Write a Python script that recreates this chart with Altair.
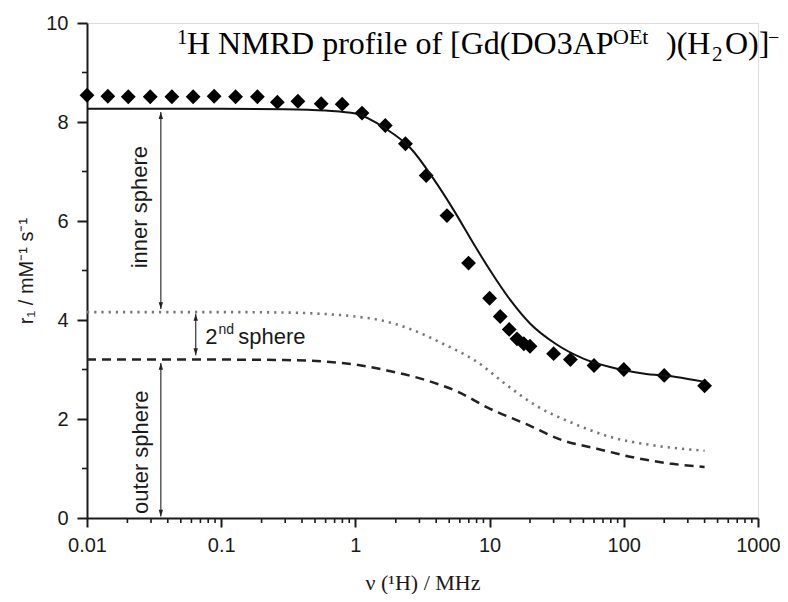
import altair as alt
import pandas as pd

# ---- data ----
exp_freq = [0.01, 0.0143, 0.0203, 0.0296, 0.0429, 0.0618, 0.0886, 0.128, 0.186, 0.262,
            0.373, 0.556, 0.797, 1.12, 1.67, 2.36, 3.37, 4.81, 6.97, 10, 12, 14, 16, 18,
            20, 30, 40, 60, 100, 200, 400]
exp_r1 = [8.54, 8.52, 8.51, 8.51, 8.51, 8.51, 8.52, 8.51, 8.51, 8.40,
          8.42, 8.37, 8.36, 8.18, 7.93, 7.56, 6.92, 6.11, 5.15, 4.44, 4.07, 3.81, 3.62, 3.52,
          3.47, 3.32, 3.20, 3.08, 3.00, 2.88, 2.67]

fit_freq = [0.01, 0.1, 0.3, 0.6, 1.0, 1.67, 2.6, 3.8, 5.4, 7.6, 10.1, 14.3, 20, 31, 50, 79, 139, 245, 400]
fit_total = [8.27, 8.27, 8.26, 8.23, 8.17, 7.87, 7.46, 6.86, 6.22, 5.54, 5.00, 4.40, 3.93, 3.52, 3.22, 3.05, 2.92, 2.85, 2.75]

second_freq = [0.01, 0.1, 0.3, 0.6, 1.0, 1.58, 2.6, 4.5, 8.1, 13.5, 22.5, 39.7, 79, 164, 400]
second_r1 = [4.16, 4.16, 4.15, 4.12, 4.07, 3.99, 3.81, 3.52, 3.15, 2.68, 2.26, 1.94, 1.64, 1.47, 1.36]

outer_freq = [0.01, 0.1, 0.3, 0.6, 1.0, 1.72, 3.4, 5.8, 10, 19, 35, 63, 120, 220, 400]
outer_r1 = [3.20, 3.20, 3.19, 3.16, 3.10, 2.98, 2.78, 2.55, 2.21, 1.89, 1.57, 1.40, 1.22, 1.10, 1.03]

x_major = [0.01, 0.1, 1, 10, 100, 1000]
y_major = [0, 2, 4, 6, 8, 10]
y_minor = [1, 3, 5, 7, 9]
x_minor = [k * 10.0 ** d for d in range(-2, 3) for k in range(2, 10)]

exp_df = pd.DataFrame({"f": exp_freq, "r": exp_r1})
fit_df = pd.DataFrame({"f": fit_freq, "r": fit_total})
sec_df = pd.DataFrame({"f": second_freq, "r": second_r1})
out_df = pd.DataFrame({"f": outer_freq, "r": outer_r1})
xmin_df = pd.DataFrame({"f": x_minor})
ymin_df = pd.DataFrame({"r": y_minor})
one = pd.DataFrame({"a": [0]})

SANS = "Liberation Sans"
SERIF = "Liberation Serif"
INK = "#1a1a1a"

W, H = 671, 495

xscale = alt.Scale(type="log", domain=[0.01, 1000], nice=False)
yscale = alt.Scale(domain=[0, 10], nice=False)

xaxis = alt.Axis(values=x_major, format="~g", title="ν (¹H) / MHz",
                 titleFont=SERIF, titleFontSize=22, titleFontWeight="normal",
                 titleColor=INK, titlePadding=17,
                 labelFont=SANS, labelFontSize=20, labelColor=INK, labelPadding=8,
                 tickSize=9, tickWidth=2, tickColor=INK, domainWidth=2, domainColor=INK,
                 grid=False, labelFlush=False)
yaxis = alt.Axis(values=y_major, title="r₁ / mM⁻¹ s⁻¹",
                 titleFont=SANS, titleFontSize=20, titleFontWeight="normal",
                 titleColor=INK, titlePadding=9,
                 labelFont=SANS, labelFontSize=20, labelColor=INK, labelPadding=9,
                 tickSize=10, tickWidth=2, tickColor=INK, domainWidth=2, domainColor=INK,
                 grid=False, labelFlush=False)

points = alt.Chart(exp_df).mark_point(shape="diamond", filled=True, size=220,
                                      color="#000", opacity=1).encode(
    x=alt.X("f:Q", scale=xscale, axis=xaxis),
    y=alt.Y("r:Q", scale=yscale, axis=yaxis),
)

fit_line = alt.Chart(fit_df).mark_line(color="#111", strokeWidth=2, interpolate="monotone").encode(
    x="f:Q", y="r:Q")
sec_line = alt.Chart(sec_df).mark_line(color="#777", strokeWidth=2.6, strokeDash=[2.2, 5],
                                       interpolate="monotone").encode(x="f:Q", y="r:Q")
out_line = alt.Chart(out_df).mark_line(color="#222", strokeWidth=2.5, strokeDash=[9, 6],
                                       interpolate="monotone").encode(x="f:Q", y="r:Q")

xminor = alt.Chart(xmin_df).mark_rule(color=INK, strokeWidth=1.6).encode(
    x="f:Q", y=alt.value(H), y2=alt.value(H + 5))
yminor = alt.Chart(ymin_df).mark_rule(color=INK, strokeWidth=1.6).encode(
    y="r:Q", x=alt.value(-5), x2=alt.value(0))

UP = "M0,0L-1.1,3.4L1.1,3.4Z"
DOWN = "M0,0L-1.1,-3.4L1.1,-3.4Z"


def arrow(f, lo, hi):
    line = alt.Chart(one).mark_rule(color="#333", strokeWidth=1.2).encode(
        x=alt.datum(f), y=alt.datum(lo), y2=alt.datum(hi))
    top = alt.Chart(one).mark_point(shape=UP, filled=True, size=16, color="#222", opacity=1).encode(
        x=alt.datum(f), y=alt.datum(hi))
    bot = alt.Chart(one).mark_point(shape=DOWN, filled=True, size=16, color="#222", opacity=1).encode(
        x=alt.datum(f), y=alt.datum(lo))
    return [line, top, bot]


def dtext(txt, f, r, size=21, angle=0, align="left", baseline="alphabetic"):
    kw = dict(text=txt, font=SANS, fontSize=size, color=INK, align=align, baseline=baseline)
    if angle:
        kw["angle"] = angle
    return alt.Chart(one).mark_text(**kw).encode(x=alt.datum(f), y=alt.datum(r))


annots = []
annots += arrow(0.0355, 4.22, 8.20)
annots += arrow(0.0646, 3.29, 4.12)
annots += arrow(0.0355, 0.03, 3.13)
annots.append(dtext("inner sphere", 0.0247, 6.28, size=22, angle=270, align="center", baseline="middle"))
annots.append(dtext("outer sphere", 0.0251, 1.33, size=22, angle=270, align="center", baseline="middle"))
annots.append(dtext("2", 0.0762, 3.51, size=22))
annots.append(dtext("nd", 0.0953, 3.72, size=14))
annots.append(dtext("sphere", 0.134, 3.51, size=22))


def ptext(txt, px, py, size):
    return alt.Chart(one).mark_text(text=txt, font=SERIF, fontSize=size, color="#000",
                                    align="left", baseline="alphabetic").encode(
        x=alt.value(px), y=alt.value(py))


title_parts = [
    ptext("1", 90, 21, 21),
    ptext("H NMRD profile of [Gd(DO3AP", 100, 31, 32),
    ptext("OEt", 526, 21, 22),
    ptext(")(H", 579, 31, 32),
    ptext("2", 625, 38, 21),
    ptext("O)]", 638, 31, 32),
    ptext("−", 681, 21, 20),
]

chart = alt.layer(points, out_line, sec_line, fit_line, xminor, yminor, *annots, *title_parts).properties(
    width=W, height=H,
    padding={"left": 79, "top": 15, "right": 22, "bottom": 76},
    autosize=alt.AutoSizeParams(type="none"),
).configure_view(stroke=None).configure(background="white")

chart.save("out.html", embed_options={"renderer": "svg", "actions": False})
